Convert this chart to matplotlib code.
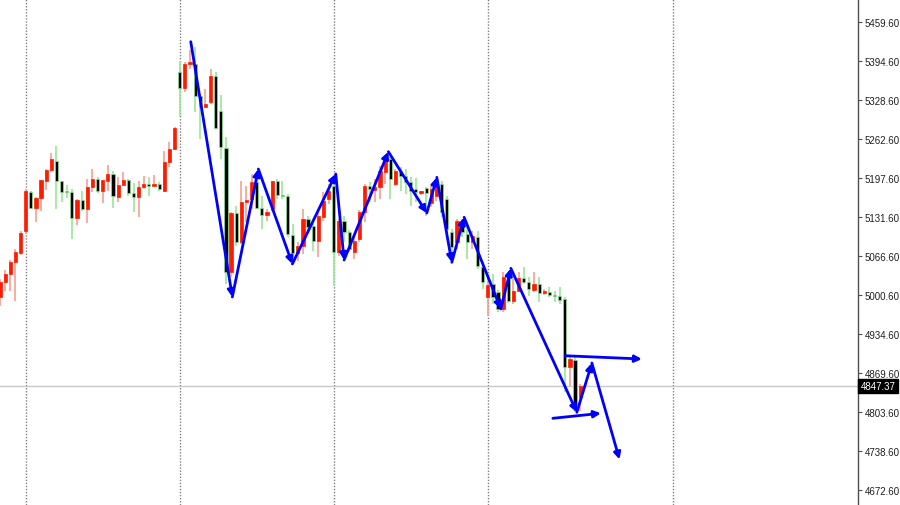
import numpy as np
import matplotlib
matplotlib.use("Agg")
import matplotlib.pyplot as plt
import matplotlib.transforms as mtransforms
from matplotlib.patches import Rectangle

# bar index of the first candle (bars counted from the first period separator)
first_bar = -5

opens = [
    4997, 5022, 5036, 5056, 5071, 5108, 5174, 5147, 5164, 5192,
    5211, 5226, 5192, 5175, 5174, 5130, 5160, 5145, 5182, 5196,
    5175, 5192, 5204, 5165, 5186, 5194, 5172, 5165, 5182, 5187,
    5184, 5187, 5175, 5224, 5246, 5376, 5349, 5389, 5389, 5335,
    5317, 5325, 5369, 5310, 5248, 5039, 5138, 5090, 5157, 5162,
    5190, 5147, 5135, 5145, 5192, 5169, 5167, 5102, 5071, 5083,
    5128, 5117, 5091, 5132, 5162, 5184, 5073, 5125, 5107, 5073,
    5095, 5140, 5184, 5177, 5182, 5207, 5229, 5187, 5209, 5201,
    5190, 5179, 5172, 5180, 5155, 5167, 5187, 5162, 5106, 5090,
    5125, 5103, 5090, 5098, 5048, 4997, 5019, 5006, 4977, 5031,
    4990, 5007, 5029, 5022, 5009, 5019, 5004, 5006, 5001, 4999,
    4994, 4880, 4891, 4829,
]
highs = [
    5027, 5043, 5059, 5078, 5108, 5179, 5175, 5165, 5194, 5212,
    5239, 5251, 5192, 5186, 5179, 5162, 5175, 5196, 5212, 5199,
    5194, 5219, 5209, 5199, 5207, 5196, 5189, 5192, 5201, 5199,
    5202, 5190, 5243, 5258, 5283, 5394, 5392, 5413, 5418, 5339,
    5347, 5381, 5376, 5337, 5266, 5140, 5150, 5192, 5184, 5204,
    5194, 5167, 5145, 5192, 5196, 5192, 5170, 5120, 5090, 5145,
    5133, 5128, 5145, 5174, 5187, 5191, 5128, 5133, 5110, 5098,
    5144, 5187, 5191, 5196, 5217, 5233, 5233, 5212, 5216, 5212,
    5199, 5197, 5175, 5182, 5184, 5192, 5192, 5167, 5111, 5128,
    5128, 5117, 5108, 5108, 5049, 5031, 5036, 5009, 5039, 5036,
    5027, 5039, 5048, 5031, 5039, 5031, 5011, 5014, 5007, 5014,
    4997, 4896, 4896, 4851,
]
lows = [
    4982, 5007, 5007, 4990, 5068, 5103, 5145, 5123, 5142, 5177,
    5207, 5145, 5157, 5164, 5095, 5118, 5142, 5122, 5174, 5172,
    5155, 5175, 5147, 5157, 5184, 5167, 5140, 5132, 5179, 5167,
    5184, 5175, 5174, 5216, 5244, 5302, 5342, 5381, 5308, 5263,
    5315, 5322, 5280, 5229, 5019, 5031, 5083, 5086, 5123, 5145,
    5145, 5111, 5125, 5142, 5162, 5162, 5098, 5061, 5058, 5070,
    5108, 5075, 5064, 5125, 5154, 5016, 5066, 5090, 5073, 5061,
    5090, 5123, 5157, 5157, 5162, 5187, 5162, 5184, 5175, 5170,
    5150, 5157, 5169, 5133, 5149, 5158, 5132, 5098, 5073, 5078,
    5098, 5061, 5078, 5044, 5011, 4965, 4985, 4972, 4972, 4987,
    4985, 5007, 5019, 4999, 5006, 4989, 5001, 4997, 4989, 4985,
    4837, 4848, 4804, 4806,
]
closes = [
    5022, 5036, 5056, 5073, 5105, 5175, 5147, 5164, 5194, 5211,
    5229, 5192, 5174, 5174, 5130, 5160, 5145, 5182, 5196, 5175,
    5194, 5204, 5167, 5186, 5194, 5172, 5165, 5182, 5187, 5184,
    5187, 5179, 5224, 5246, 5281, 5349, 5389, 5392, 5335, 5317,
    5322, 5369, 5281, 5249, 5039, 5138, 5090, 5157, 5160, 5190,
    5147, 5135, 5140, 5192, 5169, 5167, 5103, 5071, 5083, 5128,
    5115, 5091, 5133, 5159, 5175, 5073, 5125, 5107, 5078, 5091,
    5140, 5184, 5179, 5182, 5209, 5228, 5196, 5209, 5201, 5190,
    5175, 5174, 5175, 5172, 5179, 5187, 5140, 5111, 5081, 5125,
    5107, 5090, 5100, 5049, 5022, 5017, 4997, 4977, 5031, 4990,
    5007, 5029, 5022, 5011, 5019, 5004, 5007, 5001, 4999, 4992,
    4880, 4893, 4817, 4847.37,
]

last_price = 4847.37
price_ticks = [4672.6, 4738.6, 4803.6, 4869.6, 4934.6, 5000.6, 5066.6,
               5131.6, 5197.6, 5262.6, 5328.6, 5394.6, 5459.6]
separator_bars = [0, 30, 60, 90, 126]

# hand drawn zigzag (bar, price)
zigzag_bars = [32.15, 40.25, 45.31, 51.94, 60.39, 62.01, 70.64, 78.12,
               80.07, 82.99, 85.39, 92.54, 94.49, 107.34, 110.27, 115.65]
zigzag_prices = [5426.5, 4997.2, 5212.4, 5052.7, 5204.0, 5059.4, 5241.5,
                 5138.4, 5198.4, 5055.5, 5131.2, 4977.0, 5045.4, 4803.3,
                 4886.2, 4724.0]

# horizontal arrows: (start bar, start price, end bar, end price)
level_arrows = [
    (105.06, 4898.4, 120.01, 4892.9),
    (102.67, 4793.2, 112.02, 4801.6),
]


def main():
    fig = plt.figure(figsize=(9, 5.06), dpi=100)
    ax = fig.add_axes([0, 0, 858 / 900, 1])

    bars = np.arange(first_bar, first_bar + len(opens))
    body_w = 0.62

    for x, o, h, l, c in zip(bars, opens, highs, lows, closes):
        up = c >= o
        wick_col = "#f7a090" if up else "#98e698"
        body_col = "#ff1a00" if up else "#000000"
        ax.vlines(x, l, h, color=wick_col, linewidth=1.2, zorder=2)
        bottom = min(o, c)
        height = max(abs(c - o), 1.2)
        ax.add_patch(
            Rectangle(
                (x - body_w / 2, bottom),
                body_w,
                height,
                facecolor=body_col,
                edgecolor=body_col if up else "#8fe28f",
                linewidth=0.5,
                zorder=3,
            )
        )

    for b in separator_bars:
        ax.axvline(b, color="#808080", linestyle=(0, (1, 1.2)),
                   linewidth=1, zorder=1)

    ax.axhline(last_price, color="#c8c8c8", linewidth=1, zorder=1)

    arrow_style = dict(arrowstyle="-|>", color="#0000ff", lw=2,
                       shrinkA=0, shrinkB=0, mutation_scale=10)

    pts = list(zip(zigzag_bars, zigzag_prices))
    for (x0, y0), (x1, y1) in zip(pts[:-1], pts[1:]):
        ax.annotate("", xy=(x1, y1), xytext=(x0, y0),
                    arrowprops=arrow_style, zorder=5)

    for x0, y0, x1, y1 in level_arrows:
        ax.annotate("", xy=(x1, y1), xytext=(x0, y0),
                    arrowprops=arrow_style, zorder=5)

    ax.set_xlim(-5.0, 162.1)
    ax.set_ylim(4647.4, 5498.3)

    for side in ["top", "left", "bottom"]:
        ax.spines[side].set_visible(False)
    ax.spines["right"].set_color("#505050")
    ax.spines["right"].set_linewidth(1)

    ax.set_xticks([])
    ax.yaxis.tick_right()
    ax.set_yticks(price_ticks)
    ax.set_yticklabels([f"{p:.2f}" for p in price_ticks])
    ax.tick_params(axis="y", direction="out", length=3, width=0.8,
                   color="#505050", pad=2, labelsize=7,
                   labelcolor="#202020")
    for lab in ax.get_yticklabels():
        lab.set_family("Liberation Sans")

    trans = mtransforms.blended_transform_factory(ax.transAxes, ax.transData)
    ax.text(
        1.003,
        last_price,
        f"{last_price:.2f}",
        transform=trans,
        ha="left",
        va="center",
        color="white",
        fontsize=7,
        family="Liberation Sans",
        bbox=dict(facecolor="black", edgecolor="black", pad=1.6),
        zorder=6,
        clip_on=False,
    )

    fig.savefig("out.png", dpi=100, facecolor="white")
    plt.close(fig)


if __name__ == "__main__":
    main()
